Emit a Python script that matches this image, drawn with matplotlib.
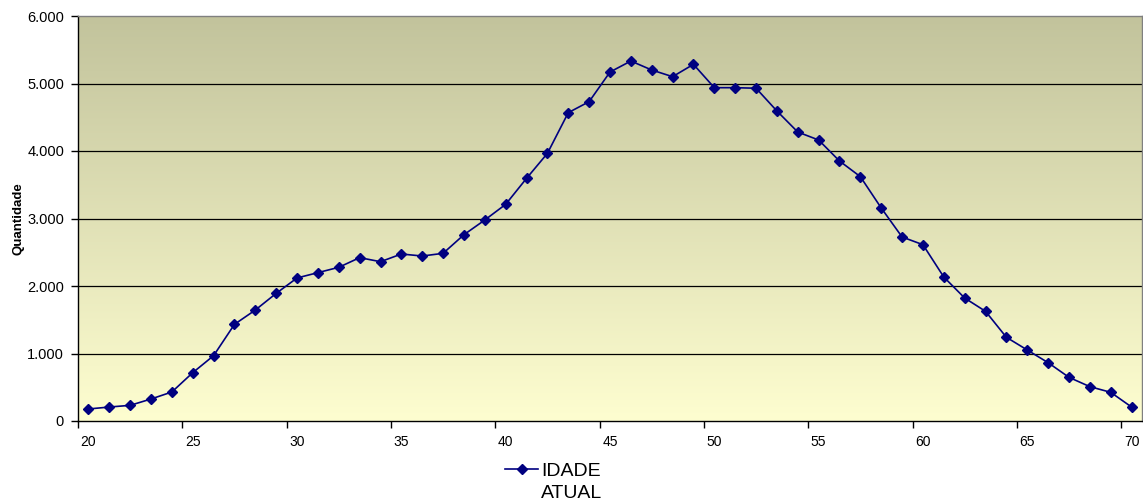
import numpy as np
import matplotlib
matplotlib.use("Agg")
import matplotlib.pyplot as plt
from matplotlib.ticker import FuncFormatter, FixedLocator

ages = list(range(20, 71))
quantidade = [178, 207, 232, 326, 430, 716, 968, 1432, 1644, 1891,
              2119, 2198, 2277, 2420, 2360, 2474, 2444, 2484, 2760, 2978,
              3210, 3595, 3965, 4568, 4731, 5170, 5333, 5200, 5101, 5284,
              4938, 4938, 4930, 4593, 4281, 4163, 3852, 3620, 3156, 2726,
              2612, 2133, 1822, 1625, 1240, 1052, 864, 647, 509, 425, 207]
x_labels = ["20", "25", "30", "35", "40", "45", "50", "55", "60", "65", "70"]
y_ticks = [0, 1000, 2000, 3000, 4000, 5000, 6000]
series_name = ["IDADE", "ATUAL"]
y_label = "Quantidade"

plt.rcParams['font.family'] = ['Liberation Sans', 'DejaVu Sans']

W, H = 1143, 504
fig = plt.figure(figsize=(W / 100, H / 100), dpi=100)
ax = fig.add_axes([78/W, 83/H, 1064/W, 405/H])

n = len(ages)
xpos = np.arange(n)
ax.set_xlim(-0.5, n - 0.5)
ax.set_ylim(y_ticks[0], y_ticks[-1])

# gradient background
top = np.array([194, 195, 156]) / 255
bot = np.array([254, 254, 208]) / 255
t = np.linspace(0, 1, 256)[:, None]
grad = (top[None, :] * (1 - t) + bot[None, :] * t)[:, None, :]
ax.imshow(grad, extent=[-0.5, n - 0.5, y_ticks[0], y_ticks[-1]], aspect='auto',
          origin='upper', zorder=0, interpolation='bilinear')

for v in y_ticks[1:-1]:
    ax.axhline(v, color='black', lw=0.9, zorder=1)

ax.plot(xpos, quantidade, color='#000080', lw=1.2, marker='D', markersize=5.5,
        markerfacecolor='#000080', markeredgecolor='#000080', zorder=3,
        label=series_name[0])

# x axis: labels at categories, tick marks at category boundaries
label_pos = [ages.index(int(s)) for s in x_labels]
ax.xaxis.set_major_locator(FixedLocator(label_pos))
ax.set_xticklabels(x_labels)
ax.xaxis.set_minor_locator(FixedLocator([p - 0.5 for p in label_pos]))
ax.tick_params(axis='x', which='major', length=0, pad=10, labelsize=10)
ax.tick_params(axis='x', which='minor', length=5, width=1, direction='out', color='black')

ax.set_yticks(y_ticks)
ax.yaxis.set_major_formatter(FuncFormatter(lambda v, p: f"{int(v):,}".replace(',', '.')))
ax.tick_params(axis='y', length=5, width=1, direction='out', labelsize=10.5, pad=5)

ax.set_ylabel(y_label, fontsize=9.5, fontweight='bold', labelpad=2)

for s in ['left', 'bottom']:
    ax.spines[s].set_color('black')
    ax.spines[s].set_linewidth(1.0)
for s in ['top', 'right']:
    ax.spines[s].set_color('#808080')
    ax.spines[s].set_linewidth(1.0)

leg = ax.legend(loc='upper left', bbox_to_anchor=(505/W, (H - 462)/H),
                bbox_transform=fig.transFigure, frameon=False,
                prop={'size': 14},
                handlelength=1.7, handletextpad=0.15, borderpad=0, borderaxespad=0)

fig.canvas.draw()
bb = leg.get_texts()[0].get_window_extent()
fig.text(bb.x0 / W, (bb.y0 - 5) / H, series_name[1], fontsize=14,
         ha='left', va='top')

fig.savefig("out.png", dpi=100)
